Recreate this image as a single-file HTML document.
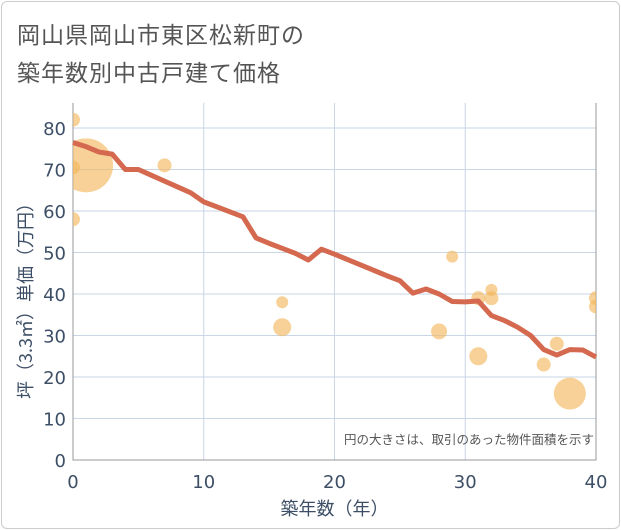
<!DOCTYPE html>
<html><head><meta charset="utf-8"><style>
body{margin:0;background:#fff;font-family:"DejaVu Sans","Noto Sans CJK JP",sans-serif;}
#card{position:absolute;left:1px;top:1px;width:617px;height:526px;border:1px solid #ccc;border-radius:6px;background:#fff;}
#title{position:absolute;left:17px;top:14px;font-size:23px;line-height:38px;color:#555;letter-spacing:1px;font-family:"Noto Sans CJK JP",sans-serif;}
svg{position:absolute;left:0;top:0;}
</style></head><body>
<div id="card"></div>
<div id="title">岡山県岡山市東区松新町の<br>築年数別中古戸建て価格</div>
<svg id="chart" width="621" height="530"></svg>
<script>
const xTicks=[0,10,20,30,40];
const yTicks=[0,10,20,30,40,50,60,70,80];
const lineYears=[0,1,2,3,4,5,6,7,8,9,10,11,12,13,14,15,16,17,18,19,20,21,22,23,24,25,26,27,28,29,30,31,32,33,34,35,36,37,38,39,40];
const linePrices=[76.5,75.5,74.2,73.7,70,70,68.6,67.2,65.8,64.4,62.2,61,59.8,58.6,53.5,52.2,51,49.8,48.2,50.8,49.6,48.3,47,45.7,44.4,43.2,40.2,41.2,40,38.2,38.1,38.3,34.8,33.6,32,30,26.6,25.3,26.6,26.5,24.8];
const bubbleYears=[0,1,0,0,7,16,16,29,28,31,31,32,32,36,37,38,40,40];
const bubblePrices=[82,71,70.5,58,71,38,32,49,31,39,25,41,39,23,28,16,39,37];
const bubbleSizes=[7,27,7,7,7,6,9,6,8,7,9,6,7,7,7,16,7,7];
const NS='http://www.w3.org/2000/svg';
const svg=document.getElementById('chart');
const L=73,R=596,T=103,B=460;
const xs=v=>L+(v-0)/40*(R-L);
const ys=v=>B-v*4.15;
function mk(t,a){const e=document.createElementNS(NS,t);for(const k in a)e.setAttribute(k,a[k]);svg.appendChild(e);return e;}
const clip=mk('clipPath',{id:'c'});const cr=document.createElementNS(NS,'rect');
cr.setAttribute('x',L);cr.setAttribute('y',T);cr.setAttribute('width',R-L);cr.setAttribute('height',B-T);clip.appendChild(cr);
yTicks.forEach(v=>{const g=mk('line',{x1:L,x2:R,y1:ys(v),y2:ys(v),stroke:'#c9d6e6','stroke-width':1});

const t=mk('text',{x:L-7,y:ys(v)+7,'text-anchor':'end','font-size':18,fill:'#3d4f66'});t.textContent=v;
});
xTicks.forEach(v=>{const g=mk('line',{x1:xs(v),x2:xs(v),y1:T,y2:B,stroke:'#c9d6e6','stroke-width':1});

const t=mk('text',{x:xs(v),y:B+28,'text-anchor':'middle','font-size':18,fill:'#3d4f66'});t.textContent=v;
});
const ax=mk('path',{d:`M${L},${T}V${B}H${R}V${T}`,fill:'none',stroke:'#999','stroke-width':1});

bubbleYears.forEach((yr,i)=>{const c=mk('circle',{cx:xs(yr),cy:ys(bubblePrices[i]),r:bubbleSizes[i],fill:'rgba(242,185,95,0.65)','clip-path':'url(#c)'});
});
const p=mk('polyline',{points:lineYears.map((y,i)=>xs(y)+','+ys(linePrices[i])).join(' '),fill:'none',stroke:'#d5694f','stroke-width':5,'stroke-linejoin':'round'});

const n=mk('text',{x:R-2,y:444,'text-anchor':'end','font-size':12.5,fill:'#555','font-family':'Noto Sans CJK JP, sans-serif'});n.textContent='円の大きさは、取引のあった物件面積を示す';

const xt=mk('text',{x:(L+R)/2,y:515,'text-anchor':'middle','font-size':18,fill:'#3d4f66','font-family':'Noto Sans CJK JP, sans-serif'});xt.textContent='築年数（年）';

const yt=mk('text',{x:0,y:0,'text-anchor':'middle','font-size':18,fill:'#3d4f66','font-family':'Noto Sans CJK JP, sans-serif',transform:`translate(32,${(T+B)/2+15}) rotate(-90)`});yt.textContent='坪（3.3㎡）単価（万円）';

</script>
</body></html>
